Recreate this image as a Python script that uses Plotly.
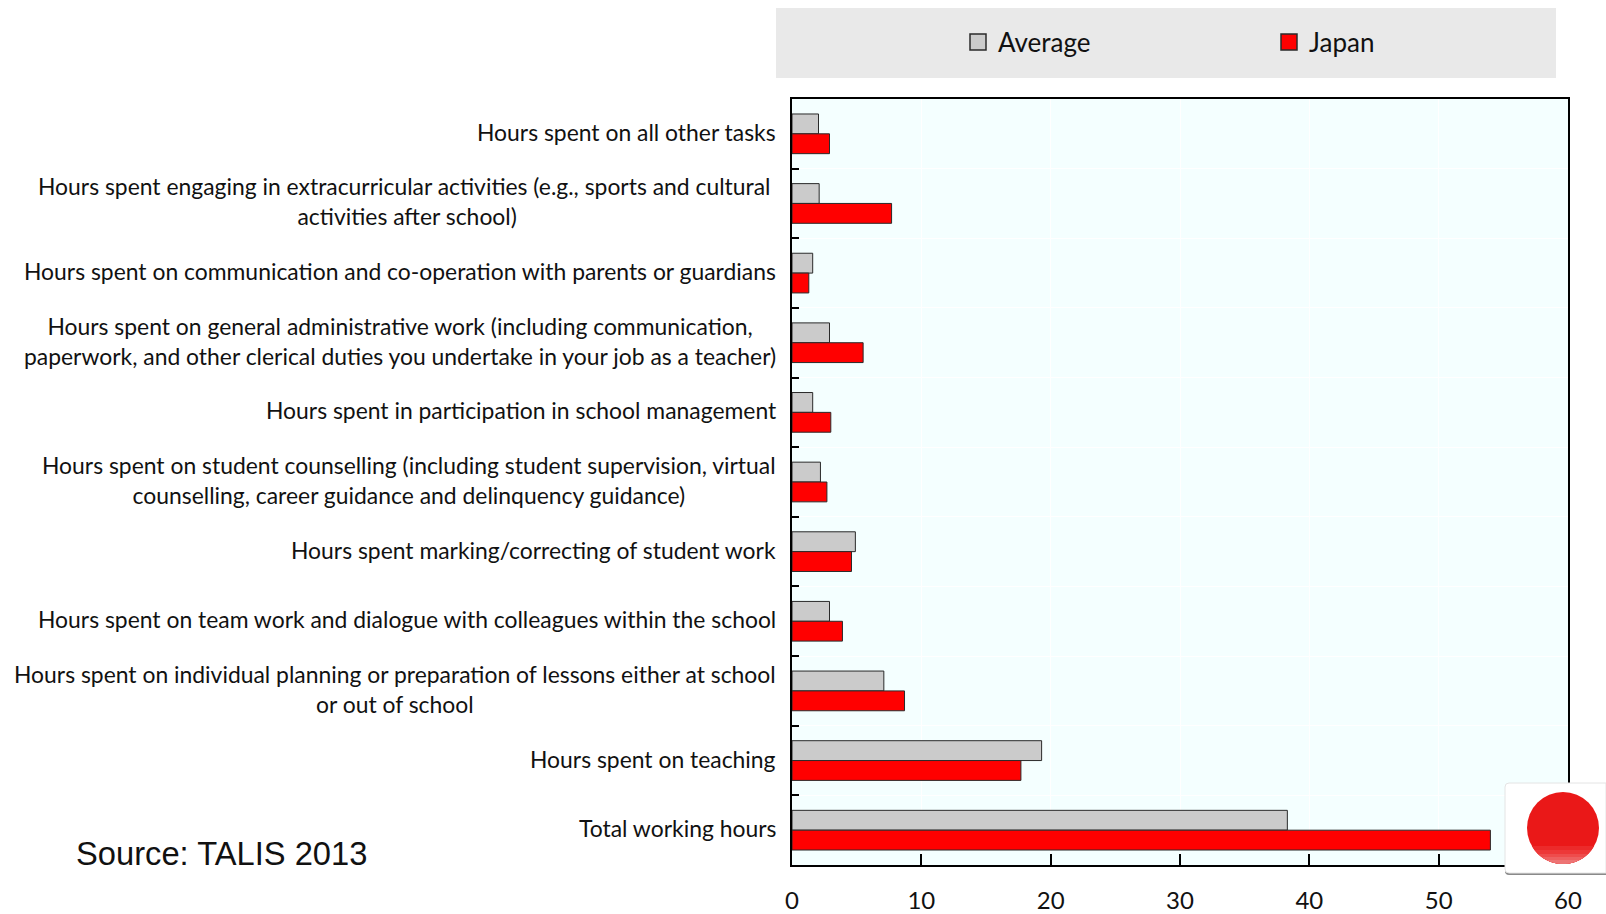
import math
import plotly.graph_objects as go

categories = [
    "Hours spent on all other tasks",
    "Hours spent engaging in extracurricular activities (e.g., sports and cultural&nbsp;<br>activities after school)",
    "Hours spent on communication and co-operation with parents or guardians",
    "Hours spent on general administrative work (including communication,<br>paperwork, and other clerical duties you undertake in your job as a teacher)",
    "Hours spent in participation in school management",
    "Hours spent on student counselling (including student supervision, virtual<br>counselling, career guidance and delinquency guidance)",
    "Hours spent marking/correcting of student work",
    "Hours spent on team work and dialogue with colleagues within the school",
    "Hours spent on individual planning or preparation of lessons either at school<br>or out of school",
    "Hours spent on teaching",
    "Total working hours",
]
average = [2.05, 2.1, 1.6, 2.9, 1.6, 2.2, 4.9, 2.9, 7.1, 19.3, 38.3]
japan = [2.9, 7.7, 1.3, 5.5, 3.0, 2.7, 4.6, 3.9, 8.7, 17.7, 54.0]
x_ticks = [0, 10, 20, 30, 40, 50, 60]

W, H = 1606, 914
L, R, T, B = 792, 1568, 99, 865
FONT = "Lato"
GREY, RED, EDGE = "#CBCBCB", "#FF0000", "#2A2A2A"


def px(x):
    return (x - L) / (R - L)


def py(y):
    return (B - y) / (B - T)


fig = go.Figure()
fig.add_bar(name="Average", y=categories, x=average, orientation="h", showlegend=False,
            marker=dict(color=GREY, line=dict(color=EDGE, width=1)))
fig.add_bar(name="Japan", y=categories, x=japan, orientation="h", showlegend=False,
            marker=dict(color=RED, line=dict(color=EDGE, width=1)))
for name, col in (("Average", GREY), ("Japan", RED)):
    fig.add_scatter(name=name, x=[None], y=[None], mode="markers",
                    marker=dict(symbol="square", size=16, color=col, line=dict(color=EDGE, width=1.5)))

shapes = [
    dict(type="rect", xref="paper", yref="paper", layer="below",
         x0=px(776), x1=px(1556), y0=py(78), y1=py(8),
         fillcolor="#E9E9E9", line_width=0),
]


def rrect(x0, y0, x1, y1, r):
    return (f"M{px(x0 + r)},{py(y0)} L{px(x1)},{py(y0)} L{px(x1)},{py(y1)} L{px(x0 + r)},{py(y1)} "
            f"Q{px(x0)},{py(y1)} {px(x0)},{py(y1 - r)} L{px(x0)},{py(y0 + r)} "
            f"Q{px(x0)},{py(y0)} {px(x0 + r)},{py(y0)} Z")


shapes.append(dict(type="path", xref="paper", yref="paper", layer="above",
                   path=rrect(1505, 785, 1606, 875, 4), fillcolor="#8A8A8A", line_width=0))
shapes.append(dict(type="path", xref="paper", yref="paper", layer="above",
                   path=rrect(1505, 783, 1606, 873, 4), fillcolor="#FFFFFF",
                   line=dict(color="#E4E4E4", width=1)))

cx, cy, rad = 1563, 828, 36
shapes.append(dict(type="circle", xref="paper", yref="paper", layer="above",
                   x0=px(cx - rad), x1=px(cx + rad), y0=py(cy + rad), y1=py(cy - rad),
                   fillcolor="#EA1818", line_width=0))


def segment(top):
    pts = []
    half = math.acos((top - cy) / rad)
    for i in range(41):
        a = math.pi / 2 - half + 2 * half * i / 40
        pts.append(f"{px(cx + rad * math.cos(a))},{py(cy + rad * math.sin(a))}")
    return "M" + " L".join(pts) + " Z"


for top, col in [(846, "#EC2A2A"), (850, "#ED3838"), (854, "#EE4C4C"), (857, "#EE6060"), (860, "#ED7474")]:
    shapes.append(dict(type="path", xref="paper", yref="paper", layer="above",
                       path=segment(top), fillcolor=col, line_width=0))

annotations = [
    dict(x=0, y=c, xref="paper", yref="y", text=c, showarrow=False, xanchor="right",
         xshift=-14, yshift=2, align="center", font=dict(family=FONT, size=22.9, color="#111111"))
    for c in categories
]
annotations.append(dict(x=px(74), y=py(853), xref="paper", yref="paper", text="Source: TALIS 2013",
                        showarrow=False, xanchor="left", yanchor="middle",
                        font=dict(family="Liberation Sans", size=32.7, color="#111111")))

fig.update_layout(
    width=W, height=H,
    margin=dict(l=L, r=W - R, t=T, b=H - B, pad=0, autoexpand=False),
    paper_bgcolor="#FFFFFF", plot_bgcolor="#F4FFFF",
    barmode="group", bargap=0.43, bargroupgap=0,
    font=dict(family=FONT, color="#111111"),
    shapes=shapes, annotations=annotations,
    legend=dict(orientation="h", x=px(958), y=py(42), xanchor="left", yanchor="middle",
                bgcolor="rgba(0,0,0,0)", entrywidth=266, entrywidthmode="pixels",
                font=dict(family=FONT, size=26), traceorder="normal"),
)
fig.update_xaxes(range=[0, 60], tickvals=x_ticks, ticks="inside", ticklen=11, tickwidth=1.5,
                 tickcolor="#000000", showgrid=True, gridcolor="#FFFFFF", gridwidth=1,
                 zeroline=False, showline=True, linecolor="#000000", linewidth=2, mirror=True,
                 ticklabelstandoff=13, tickfont=dict(family=FONT, size=24, color="#111111"))
fig.update_yaxes(autorange="reversed", type="category", tickson="boundaries", ticks="inside",
                 ticklen=7, tickwidth=1.5, tickcolor="#000000", showticklabels=False,
                 showgrid=True, gridcolor="#FFFFFF", gridwidth=1, zeroline=False,
                 showline=True, linecolor="#000000", linewidth=2, mirror=True)

fig.write_html("out.html", post_script="document.body.style.margin='0';",
               config={"displayModeBar": False})
